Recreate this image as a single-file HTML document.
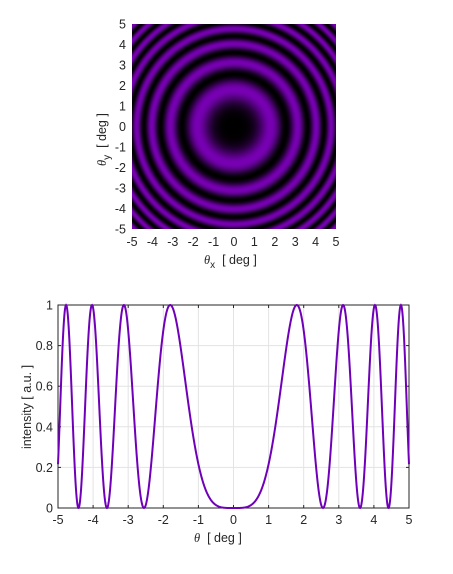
<!DOCTYPE html>
<html><head><meta charset="utf-8"><style>
body{margin:0;background:#fff;width:453px;height:574px;overflow:hidden;font-family:"Liberation Sans",sans-serif}
svg text{font-family:"Liberation Sans",sans-serif;font-size:12.5px;fill:#262626}
</style></head><body>
<div style="position:absolute;left:0;top:0">
<canvas id="hm" width="204" height="205" style="position:absolute;left:132px;top:24px"></canvas>
<svg id="s" width="453" height="574" style="position:absolute;left:0;top:0"></svg>
</div>
<script>
// fringe parameter: zeros of intensity at theta^2 = n * fringeSquaredSpacing
const fringeSquaredSpacing = [6.5];
const xTicks = [-5,-4,-3,-2,-1,0,1,2,3,4,5];
const yTicks2 = [0,0.2,0.4,0.6,0.8,1];
const yTickLabels2 = ["0","0.2","0.4","0.6","0.8","1"];
const thetaRange = [-5,5];
const NS='http://www.w3.org/2000/svg';
const svg=document.getElementById('s');
function el(t,a,txt){const e=document.createElementNS(NS,t);for(const k in a)e.setAttribute(k,a[k]);if(txt!==undefined)e.textContent=txt;svg.appendChild(e);return e;}
function I(t){const v=Math.sin(Math.PI*t*t/fringeSquaredSpacing[0]);return v*v;}
const purple=[120,0,180];
const cv=document.getElementById('hm'),ctx=cv.getContext('2d');
const W=cv.width,H=cv.height,img=ctx.createImageData(W,H);
for(let j=0;j<H;j++)for(let i=0;i<W;i++){
 const tx=thetaRange[0]+(i+0.5)/W*(thetaRange[1]-thetaRange[0]);
 const ty=thetaRange[1]-(j+0.5)/H*(thetaRange[1]-thetaRange[0]);
 const v=I(Math.sqrt(tx*tx+ty*ty));const k=(j*W+i)*4;
 img.data[k]=purple[0]*v;img.data[k+1]=purple[1]*v;img.data[k+2]=purple[2]*v;img.data[k+3]=255;}
ctx.putImageData(img,0,0);
const hx=v=>132+(v+5)/10*204, hy=v=>229-(v+5)/10*205;
xTicks.forEach(t=>{
 const a=el('text',{x:hx(t),y:246,'text-anchor':'middle'},t);
 
 const b=el('text',{x:126,y:hy(t)+4.5,'text-anchor':'end'},t);
 
});
let t1=el('text',{x:204,y:264,'font-size':'13'});t1.innerHTML='<tspan font-style="italic" font-family="Liberation Serif">θ</tspan><tspan font-size="10" dy="4">x</tspan><tspan dy="-4">\u00a0\u00a0[ deg ]</tspan>';

let t2=el('text',{x:0,y:0,'font-size':'13',transform:'translate(106,166) rotate(-90)'});t2.innerHTML='<tspan font-style="italic" font-family="Liberation Serif">θ</tspan><tspan font-size="10" dy="4">y</tspan><tspan dy="-4">\u00a0\u00a0[ deg ]</tspan>';

const L=58,R=409,T=305,B=508;
const bx=v=>L+(v-thetaRange[0])/(thetaRange[1]-thetaRange[0])*(R-L), by=v=>B-v*(B-T);
xTicks.forEach(t=>{const g=el('line',{x1:bx(t),x2:bx(t),y1:T,y2:B,stroke:'#e3e3e3','stroke-width':1});
 
 el('line',{x1:bx(t),x2:bx(t),y1:B,y2:B-3,stroke:'#262626'});el('line',{x1:bx(t),x2:bx(t),y1:T,y2:T+3,stroke:'#262626'});
 const a=el('text',{x:bx(t),y:B+16,'text-anchor':'middle'},t);
 });
yTicks2.forEach((t,i)=>{const g=el('line',{x1:L,x2:R,y1:by(t),y2:by(t),stroke:'#e3e3e3','stroke-width':1});
 
 el('line',{x1:L,x2:L+3,y1:by(t),y2:by(t),stroke:'#262626'});el('line',{x1:R,x2:R-3,y1:by(t),y2:by(t),stroke:'#262626'});
 const a=el('text',{x:L-5,y:by(t)+4.5,'text-anchor':'end'},yTickLabels2[i]);
 });
const box=el('rect',{x:L,y:T,width:R-L,height:B-T,fill:'none',stroke:'#262626','stroke-width':1});

let pts=[];for(let k=0;k<=1000;k++){const t=thetaRange[0]+k/1000*(thetaRange[1]-thetaRange[0]);pts.push(bx(t).toFixed(2)+','+by(I(t)).toFixed(2));}
const ln=el('polyline',{points:pts.join(' '),fill:'none',stroke:'#7000b8','stroke-width':2});

let t3=el('text',{x:194,y:542,'font-size':'13'});t3.innerHTML='<tspan font-style="italic" font-family="Liberation Serif">θ</tspan><tspan>\u00a0\u00a0[ deg ]</tspan>';

const t4=el('text',{x:0,y:0,'font-size':'13','text-anchor':'middle',transform:'translate(31,407) rotate(-90)'},'intensity [ a.u. ]');

</script>
</body></html>
